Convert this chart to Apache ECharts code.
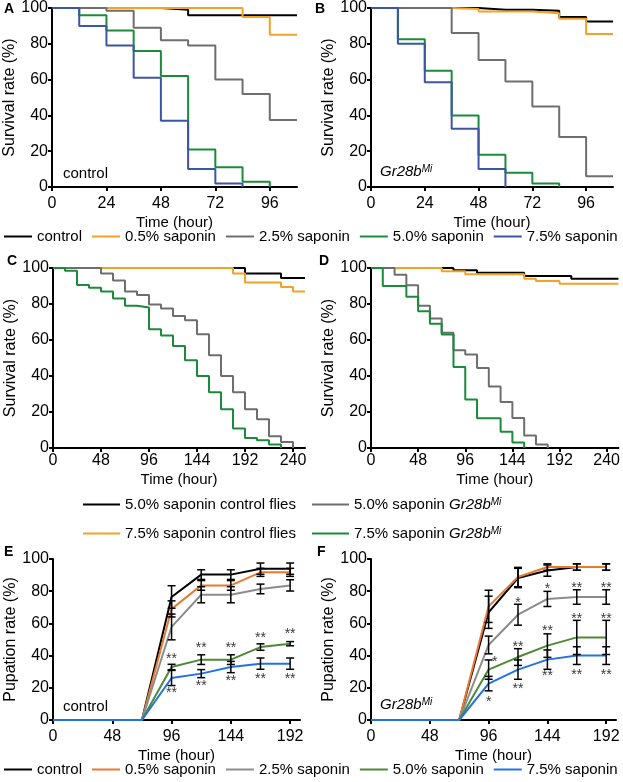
<!DOCTYPE html>
<html>
<head>
<meta charset="utf-8">
<script src="https://cdn.jsdelivr.net/npm/echarts@6/dist/echarts.min.js"></script>
<style>
html,body{margin:0;padding:0;background:#fff;}
#chart{width:623px;height:782px;}
</style>
</head>
<body>
<div id="chart"></div>
<script>
// ---------- DATA ----------
const namesAB = ['control', '0.5% saponin', '2.5% saponin', '5.0% saponin', '7.5% saponin'];
const namesCD = ['5.0% saponin control flies', '7.5% saponin control flies', '5.0% saponin Gr28bMi', '7.5% saponin Gr28bMi'];

// Survival (A, B): step times every 12 h
const timesAB = [0, 12, 24, 36, 48, 60, 72, 84, 96, 108];
const tickAB = [0, 24, 48, 72, 96];
const A_control = [100, 100, 100, 100, 99, 96, 96, 96, 96, 96];
const A_s05 = [100, 100, 100, 100, 100, 100, 100, 95, 85, 85];
const A_s25 = [100, 100, 98.5, 89, 82, 79, 60, 52, 37.5, 37.5];
const A_s50 = [100, 96, 87.5, 76, 62, 21, 11, 3, 0];
const A_s75 = [100, 90, 79, 61, 37, 10, 2, 0];

const B_control = [100, 100, 100, 100, 99, 99, 98.5, 95, 92.5, 92.5];
const B_s05 = [100, 100, 100, 99.4, 98, 98, 97, 94, 85.5, 85.5];
const B_s25 = [100, 100, 100, 86, 71, 59, 45, 28, 6, 6];
const B_s50 = [100, 82.5, 65, 40, 18, 8, 2, 0];
const B_s75 = [100, 80, 58.5, 32.5, 10, 0];

// Survival (C, D): step times every 12 h
const timesCD = [0, 12, 24, 36, 48, 60, 72, 84, 96, 108, 120, 132, 144, 156, 168, 180, 192, 204, 216, 228, 240, 252];
const tickCD = [0, 48, 96, 144, 192, 240];
const C_ctl50 = [100, 100, 100, 100, 100, 100, 100, 100, 100, 100, 100, 100, 100, 100, 100, 100, 97, 97, 97, 94.5, 94.5, 94.5];
const C_ctl75 = [100, 100, 100, 100, 100, 100, 100, 100, 100, 100, 100, 100, 100, 100, 100, 97, 92, 92, 92, 89.5, 87, 87];
const C_gr50 = [100, 100, 100, 100, 97, 93, 87, 85, 79.7, 77.5, 73.3, 71, 63.2, 51.5, 40, 31, 21.5, 16, 6.5, 3.3, 0];
const C_gr75 = [100, 98.5, 90.5, 89, 87, 83, 79, 78, 66, 62.5, 56.7, 48.7, 40, 31, 21.5, 10.8, 5.6, 4.3, 1.9, 0];

const D_ctl50 = [100, 100, 100, 100, 100, 100, 100, 98.7, 98.7, 97.4, 97.4, 97.4, 97.4, 95.6, 95.6, 95.6, 95.6, 94, 94, 94, 94, 94];
const D_ctl75 = [100, 100, 100, 100, 100, 100, 98.2, 98.2, 96.5, 96.5, 96.5, 96.5, 96.5, 94, 92.8, 92.8, 91.3, 91.3, 91.3, 91.3, 91.3, 91.3];
const D_gr50 = [100, 100, 96.3, 90.4, 79, 72, 64, 54.3, 52, 44.4, 34.2, 25.5, 16.7, 7, 1.9, 0];
const D_gr75 = [100, 90, 90, 84, 76, 69, 63, 45, 27, 16.5, 16.5, 9, 3, 0];

// Pupation (E, F)
const timesEF = [0, 24, 48, 72, 96, 120, 144, 168, 192];
const tickEF = [0, 48, 96, 144, 192];
const E_control = [0, 0, 0, 0, 76.4, 90.3, 90.3, 94, 94];
const E_control_err = [0, 0, 0, 0, 7, 3, 3, 3.5, 3.5];
const E_s05 = [0, 0, 0, 0, 69, 83.6, 83.6, 91.7, 91.7];
const E_s05_err = [0, 0, 0, 0, 5, 3, 3, 2.5, 2.5];
const E_s25 = [0, 0, 0, 0, 57.8, 77.8, 77.8, 81.4, 83.6];
const E_s25_err = [0, 0, 0, 0, 8, 5, 5, 3, 3.5];
const E_s50 = [0, 0, 0, 0, 32.9, 37.5, 37.5, 45.3, 47.4];
const E_s50_err = [0, 0, 0, 0, 1.7, 3, 3, 2, 1.3];
const E_s75 = [0, 0, 0, 0, 26.1, 28.8, 32.9, 35, 35];
const E_s75_err = [0, 0, 0, 0, 4.7, 2.5, 3.5, 3.5, 3.5];

const F_control = [0, 0, 0, 0, 66.9, 88.2, 92.8, 95, 95];
const F_control_err = [0, 0, 0, 0, 10, 6, 3.5, 2, 2];
const F_s05 = [0, 0, 0, 0, 70.6, 88.8, 95, 95, 95];
const F_s05_err = [0, 0, 0, 0, 10, 6, 2, 2, 2];
const F_s25 = [0, 0, 0, 0, 46.6, 65.4, 75.2, 76.4, 76.4];
const F_s25_err = [0, 0, 0, 0, 5.5, 6.5, 4.7, 4.5, 4.5];
const F_s50 = [0, 0, 0, 0, 31.3, 39.1, 46.2, 51.3, 51.3];
const F_s50_err = [0, 0, 0, 0, 6, 5.2, 7.3, 10.6, 10.6];
const F_s75 = [0, 0, 0, 0, 22.6, 31.3, 37.5, 40, 40];
const F_s75_err = [0, 0, 0, 0, 4.5, 6, 6, 5.5, 5.5];

// significance marks: [time, y, text]
const E_marks = [[96, 39.5, '**'], [120, 46.2, '**'], [144, 46.2, '**'], [168, 53, '**'], [192, 55.1, '**'],
                 [96, 18.4, '**'], [120, 22.6, '**'], [144, 26.1, '**'], [168, 27.1, '**'], [192, 27.1, '**']];
const F_marks = [[120, 74.7, '*'], [144, 83.4, '*'], [168, 84, '**'], [192, 84, '**'],
                 [101, 37.9, '*'], [120, 47.4, '**'], [144, 57, '**'], [168, 64.4, '**'], [192, 64.4, '**'],
                 [96, 13, '*'], [120, 21.3, '**'], [144, 28.8, '**'], [168, 29.6, '**'], [192, 29.6, '**']];

// ---------- STYLE ----------
const FONT = '"Liberation Sans", Arial, sans-serif';
const colSurv = ['#000000', '#F4A227', '#6E6E6E', '#1B8A3A', '#3C55A5'];
const colPup = ['#000000', '#E8792F', '#8C8C8C', '#4E8A35', '#2272E6'];

const grids = [
  {left: 52, top: 7, width: 245, height: 180},   // A
  {left: 371, top: 7, width: 242, height: 180},  // B
  {left: 53, top: 268, width: 252, height: 180}, // C
  {left: 371, top: 268, width: 249, height: 180},// D
  {left: 53, top: 559, width: 247, height: 161}, // E
  {left: 371, top: 559, width: 245, height: 161} // F
];

function xAx(i, max, ticks, margin, gap) {
  return {
    type: 'value', gridIndex: i, min: 0, max: max,
    name: 'Time (hour)', nameLocation: 'middle', nameGap: gap,
    nameTextStyle: {fontSize: 15, color: '#000', fontFamily: FONT},
    axisLine: {show: true, lineStyle: {color: '#000', width: 2}},
    axisTick: {show: true, length: 4, lineStyle: {color: '#000', width: 2}, customValues: ticks},
    axisLabel: {fontSize: 16, color: '#000', fontFamily: FONT, margin: margin, customValues: ticks},
    splitLine: {show: false}
  };
}
function yAx(i, name) {
  return {
    type: 'value', gridIndex: i, min: 0, max: 100, interval: 20,
    name: name, nameLocation: 'middle', nameGap: 33,
    nameTextStyle: {fontSize: 16, color: '#000', fontFamily: FONT},
    axisLine: {show: true, lineStyle: {color: '#000', width: 2}},
    axisTick: {show: true, length: 4, lineStyle: {color: '#000', width: 2}},
    axisLabel: {fontSize: 16, color: '#000', fontFamily: FONT, margin: 4},
    splitLine: {show: false}
  };
}

const series = [];
function stepLine(i, name, times, vals, color) {
  series.push({
    type: 'line', name: name, xAxisIndex: i, yAxisIndex: i, step: 'end',
    symbol: 'none', color: color, lineStyle: {width: 2, color: color},
    data: vals.map((v, k) => [times[k], v]), animation: false
  });
}
function pupLine(i, name, vals, errs, color) {
  series.push({
    type: 'line', name: name, xAxisIndex: i, yAxisIndex: i,
    symbol: 'none', color: color, lineStyle: {width: 2, color: color},
    data: vals.map((v, k) => [timesEF[k], v]), animation: false
  });
  const ed = [];
  vals.forEach((v, k) => { if (errs[k] > 0) ed.push([timesEF[k], v, errs[k]]); });
  series.push({
    type: 'custom', name: name + ' error', xAxisIndex: i, yAxisIndex: i, z: 5,
    animation: false, silent: true,
    data: ed,
    renderItem: function (params, api) {
      const x = api.value(0), y = api.value(1), e = api.value(2);
      const t = api.coord([x, y + e]);
      const b = api.coord([x, y - e]);
      const hw = 4;
      const st = {stroke: '#000', lineWidth: 1.5};
      return {type: 'group', children: [
        {type: 'line', shape: {x1: t[0], y1: t[1], x2: b[0], y2: b[1]}, style: st},
        {type: 'line', shape: {x1: t[0] - hw, y1: t[1], x2: t[0] + hw, y2: t[1]}, style: st},
        {type: 'line', shape: {x1: b[0] - hw, y1: b[1], x2: b[0] + hw, y2: b[1]}, style: st}
      ]};
    }
  });
}
function marks(i, data) {
  series.push({
    type: 'scatter', name: 'sig' + i, xAxisIndex: i, yAxisIndex: i, z: 6,
    symbolSize: 1, itemStyle: {color: 'transparent'}, animation: false, silent: true,
    data: data,
    label: {show: true, position: 'inside', offset: [0, 3], fontSize: 14, color: '#000', fontFamily: FONT,
            formatter: p => p.data[2]}
  });
}

// A
stepLine(0, namesAB[0], timesAB, A_control, colSurv[0]);
stepLine(0, namesAB[1], timesAB, A_s05, colSurv[1]);
stepLine(0, namesAB[2], timesAB, A_s25, colSurv[2]);
stepLine(0, namesAB[3], timesAB, A_s50, colSurv[3]);
stepLine(0, namesAB[4], timesAB, A_s75, colSurv[4]);
// B
stepLine(1, namesAB[0], timesAB, B_control, colSurv[0]);
stepLine(1, namesAB[1], timesAB, B_s05, colSurv[1]);
stepLine(1, namesAB[2], timesAB, B_s25, colSurv[2]);
stepLine(1, namesAB[3], timesAB, B_s50, colSurv[3]);
stepLine(1, namesAB[4], timesAB, B_s75, colSurv[4]);
// C
stepLine(2, namesCD[0], timesCD, C_ctl50, colSurv[0]);
stepLine(2, namesCD[1], timesCD, C_ctl75, colSurv[1]);
stepLine(2, namesCD[2], timesCD, C_gr50, colSurv[2]);
stepLine(2, namesCD[3], timesCD, C_gr75, colSurv[3]);
// D
stepLine(3, namesCD[0], timesCD, D_ctl50, colSurv[0]);
stepLine(3, namesCD[1], timesCD, D_ctl75, colSurv[1]);
stepLine(3, namesCD[2], timesCD, D_gr50, colSurv[2]);
stepLine(3, namesCD[3], timesCD, D_gr75, colSurv[3]);
// E
pupLine(4, namesAB[0], E_control, E_control_err, colPup[0]);
pupLine(4, namesAB[1], E_s05, E_s05_err, colPup[1]);
pupLine(4, namesAB[2], E_s25, E_s25_err, colPup[2]);
pupLine(4, namesAB[3], E_s50, E_s50_err, colPup[3]);
pupLine(4, namesAB[4], E_s75, E_s75_err, colPup[4]);
marks(4, E_marks);
// F
pupLine(5, namesAB[0], F_control, F_control_err, colPup[0]);
pupLine(5, namesAB[1], F_s05, F_s05_err, colPup[1]);
pupLine(5, namesAB[2], F_s25, F_s25_err, colPup[2]);
pupLine(5, namesAB[3], F_s50, F_s50_err, colPup[3]);
pupLine(5, namesAB[4], F_s75, F_s75_err, colPup[4]);
marks(5, F_marks);

const supStyle = {fontSize: 10, fontStyle: 'italic', fontFamily: FONT, color: '#000', verticalAlign: 'top', lineHeight: 13};
const legText = {fontSize: 15, color: '#000', fontFamily: FONT,
  rich: {
    i: {fontSize: 15, fontStyle: 'italic', fontFamily: FONT, color: '#000'},
    s: supStyle
  }};
const grFmt = n => n.replace('Gr28bMi', '{i|Gr28b}{s|Mi}');

const legendBase = {icon: 'rect', itemHeight: 2, padding: 0, selectedMode: false, textStyle: legText};
const option = {
  backgroundColor: '#fff',
  animation: false,
  grid: grids,
  xAxis: [xAx(0, 108, tickAB, 9, 28), xAx(1, 108, tickAB, 9, 28), xAx(2, 252, tickCD, 5, 24), xAx(3, 252, tickCD, 5, 24),
          xAx(4, 200, tickEF, 9, 28), xAx(5, 200, tickEF, 9, 28)],
  yAxis: [yAx(0, 'Survival rate (%)'), yAx(1, 'Survival rate (%)'), yAx(2, 'Survival rate (%)'), yAx(3, 'Survival rate (%)'),
          yAx(4, 'Pupation rate (%)'), yAx(5, 'Pupation rate (%)')],
  legend: [
    Object.assign({}, legendBase, {left: 4, top: 229, itemWidth: 28, itemGap: 10,
      data: namesAB.map((n, k) => ({name: n, itemStyle: {color: colSurv[k]}}))}),
    Object.assign({}, legendBase, {left: 83, top: 497, orient: 'vertical', itemWidth: 37, itemGap: 14,
      data: [namesCD[0], namesCD[1]].map(n => ({name: n})), formatter: grFmt}),
    Object.assign({}, legendBase, {left: 312, top: 497, orient: 'vertical', itemWidth: 37, itemGap: 14,
      data: [namesCD[2], namesCD[3]].map(n => ({name: n})), formatter: grFmt}),
    Object.assign({}, legendBase, {left: 4, top: 762, itemWidth: 28, itemGap: 10,
      data: namesAB.map((n, k) => ({name: n, itemStyle: {color: colPup[k]}}))})
  ],
  graphic: [
    {type: 'text', left: 4, top: 2, style: {text: 'A', font: 'bold 14px ' + FONT, fill: '#000'}},
    {type: 'text', left: 315, top: 2, style: {text: 'B', font: 'bold 14px ' + FONT, fill: '#000'}},
    {type: 'text', left: 7, top: 254, style: {text: 'C', font: 'bold 14px ' + FONT, fill: '#000'}},
    {type: 'text', left: 319, top: 254, style: {text: 'D', font: 'bold 14px ' + FONT, fill: '#000'}},
    {type: 'text', left: 4, top: 545, style: {text: 'E', font: 'bold 14px ' + FONT, fill: '#000'}},
    {type: 'text', left: 317, top: 545, style: {text: 'F', font: 'bold 14px ' + FONT, fill: '#000'}},
    {type: 'text', left: 63, top: 166, style: {text: 'control', font: '15px ' + FONT, fill: '#000'}},
    {type: 'text', left: 63, top: 699, style: {text: 'control', font: '15px ' + FONT, fill: '#000'}},
    {type: 'text', left: 380, top: 164, style: {text: '{i|Gr28b}{s|Mi}', fill: '#000', font: '15px ' + FONT,
      rich: {i: {fontSize: 15, fontStyle: 'italic', fontFamily: FONT}, s: supStyle}}},
    {type: 'text', left: 380, top: 697, style: {text: '{i|Gr28b}{s|Mi}', fill: '#000', font: '15px ' + FONT,
      rich: {i: {fontSize: 15, fontStyle: 'italic', fontFamily: FONT}, s: supStyle}}}
  ],
  series: series
};

const chart = echarts.init(document.getElementById('chart'), null, {renderer: 'canvas'});
chart.setOption(option);
</script>
</body>
</html>
